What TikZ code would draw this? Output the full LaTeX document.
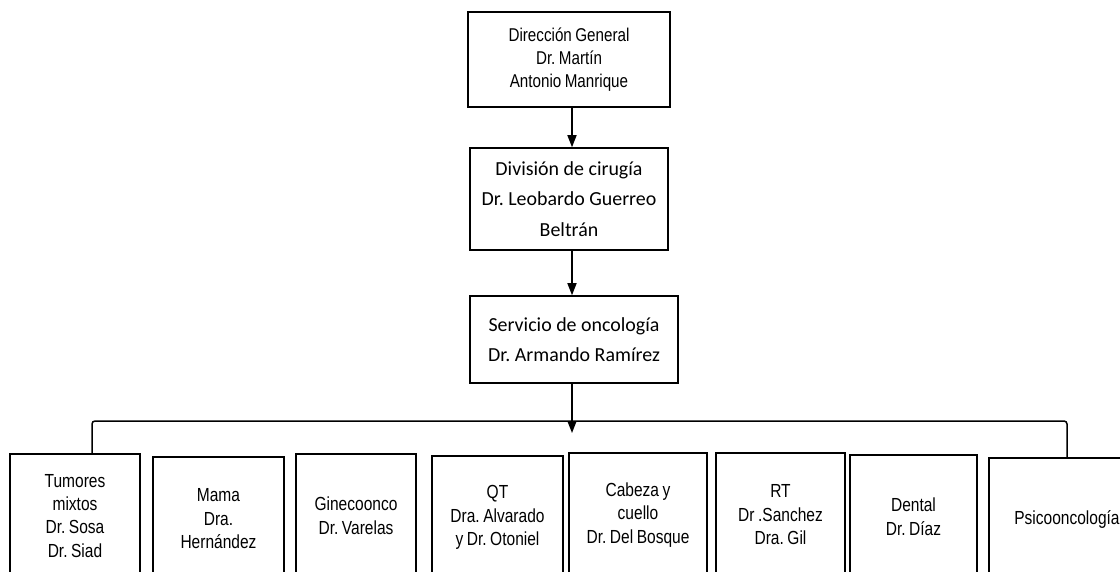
\documentclass[tikz,border=0pt]{standalone}
\usepackage{fontspec}
\newfontfamily\narrowfont{Liberation Sans}[FakeStretch=0.82,WordSpace=0.82]
\newfontfamily\calibrifont{Carlito}
\usetikzlibrary{arrows.meta}
\frenchspacing
\tikzset{
  unit/.style={draw, line width=1.5bp, inner sep=0pt, align=center},
  narrowtext/.style={font=\narrowfont\fontsize{19}{23.5}\selectfont},
  calibritext/.style={font=\calibrifont\fontsize{20}{30.5}\selectfont},
  service/.style={unit, narrowtext, anchor=north, minimum height=124bp},
  link/.style={line width=1.5bp, -{Triangle[width=9bp,length=12bp]}},
}
\begin{document}
\begin{tikzpicture}[x=1bp,y=-1bp]
  \useasboundingbox (0,0) rectangle (1120,572);
  \clip (0,0) rectangle (1120,572);
  \coordinate (spine) at (572,0);
  % chain of command
  \node[unit,narrowtext,font=\narrowfont\fontsize{18.6}{23}\selectfont,minimum width=202bp,minimum height=95bp] (direccion) at (569,59.5) {Dirección General\\Dr. Martín\\Antonio Manrique};
  \node[unit,calibritext,minimum width=198bp,minimum height=102bp] (cirugia) at (569,199) {División de cirugía\\Dr. Leobardo Guerreo\\Beltrán};
  \node[unit,calibritext,minimum width=208bp,minimum height=87bp] (oncologia) at (574,339.5) {Servicio de oncología\\Dr. Armando Ramírez};
  \draw[link] (direccion.south -| spine) -- (cirugia.north -| spine);
  \draw[link] (cirugia.south -| spine) -- (oncologia.north -| spine);
  \coordinate (bus) at (572,421);
  \coordinate (tip) at (572,433);
  \draw[link] (oncologia.south -| spine) -- (tip);
  % services
  \node[service,minimum width=130bp] (tumores) at (75,453) {Tumores\\mixtos\\Dr. Sosa\\Dr. Siad};
  \node[service,minimum width=131bp] (mama) at (218.5,456) {Mama\\Dra.\\Hernández};
  \node[service,minimum width=120bp] (gineco) at (356,453) {Ginecoonco\\Dr. Varelas};
  \node[service,minimum width=131bp] (qt) at (497.5,455) {QT\\Dra. Alvarado\\y Dr. Otoniel};
  \node[service,minimum width=138bp] (cabeza) at (638,452) {Cabeza y\\cuello\\Dr. Del Bosque};
  \node[service,minimum width=129bp] (rt) at (780.5,452) {RT\\Dr .Sanchez\\Dra. Gil};
  \node[service,minimum width=127bp] (dental) at (913.5,454) {Dental\\Dr. Díaz};
  \node[service,minimum width=156bp] (psico) at (1067,457) {Psicooncología};
  \draw[line width=1.5bp,rounded corners=3bp] ([xshift=17bp]tumores.north) |- (bus) -| (psico.north);
\end{tikzpicture}
\end{document}
